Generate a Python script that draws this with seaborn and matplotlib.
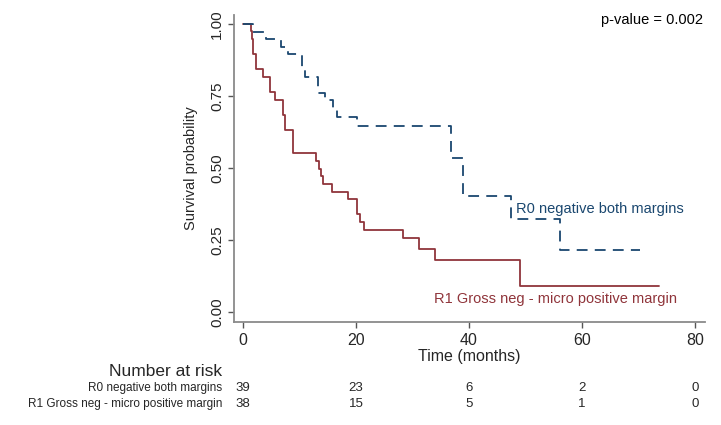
import numpy as np
import pandas as pd
import matplotlib
matplotlib.use("Agg")
import matplotlib.pyplot as plt
import matplotlib.transforms as mtransforms
import seaborn as sns

# --- data (Kaplan-Meier steps) ---
groups = ["R0 negative both margins", "R1 Gross neg - micro positive margin"]

r0_time = [0, 1.7, 4.1, 6.8, 8.0, 10.4, 10.9, 13.3, 14.5, 15.9, 16.6, 20.2,
           36.9, 38.9, 47.4, 56.1, 70.3]
r0_surv = [1.0, 0.972, 0.946, 0.920, 0.896, 0.846, 0.815, 0.760, 0.737, 0.708,
           0.677, 0.647, 0.536, 0.402, 0.321, 0.214, 0.214]

r1_time = [0, 1.4, 1.6, 1.8, 2.3, 3.5, 4.7, 5.7, 7.1, 7.4, 8.9, 12.9, 13.5,
           13.8, 14.2, 15.8, 18.6, 20.1, 20.7, 21.4, 28.4, 31.2, 34.0, 49.0, 73.7]
r1_surv = [1.0, 0.974, 0.947, 0.895, 0.842, 0.816, 0.763, 0.737, 0.684, 0.632,
           0.553, 0.524, 0.497, 0.472, 0.444, 0.418, 0.391, 0.339, 0.311, 0.285,
           0.256, 0.219, 0.181, 0.090, 0.090]

risk_times = [0, 20, 40, 60, 80]
r0_risk = [39, 23, 6, 2, 0]
r1_risk = [38, 15, 5, 1, 0]

p_text = "p-value = 0.002"

# --- style ---
sns.set_theme(style="white")
plt.rcParams["font.family"] = ["Liberation Sans", "DejaVu Sans"]

blue = "#1a476f"
red = "#90353b"
grey = "#8a8a8a"

df = pd.concat([
    pd.DataFrame({"time": r0_time, "surv": r0_surv, "group": groups[0]}),
    pd.DataFrame({"time": r1_time, "surv": r1_surv, "group": groups[1]}),
])

fig = plt.figure(figsize=(7.21, 4.25), dpi=100)
ax = fig.add_axes([0.3245, 0.2424, 0.978 - 0.3245, 0.9647 - 0.2424])

sns.lineplot(data=df[df.group == groups[1]], x="time", y="surv", ax=ax,
             drawstyle="steps-post", estimator=None, sort=False,
             color=red, linewidth=1.3)
sns.lineplot(data=df[df.group == groups[0]], x="time", y="surv", ax=ax,
             drawstyle="steps-post", estimator=None, sort=False,
             color=blue, linewidth=1.3, linestyle=(0, (6, 4)))

ax.set_xlim(-1.6, 81.8)
ax.set_ylim(-0.035, 1.031)
ax.set_xticks(risk_times)
ax.set_yticks([0, 0.25, 0.5, 0.75, 1.0])
ax.set_yticklabels(["0.00", "0.25", "0.50", "0.75", "1.00"], rotation=90, va="center")

for s in ["top", "right"]:
    ax.spines[s].set_visible(False)
for s in ["left", "bottom"]:
    ax.spines[s].set_color(grey)
    ax.spines[s].set_linewidth(1.3)

ax.tick_params(axis="both", which="major", length=4, width=1, color="#555555",
               labelsize=11.5, pad=4, bottom=True, left=True)
ax.tick_params(axis="y", labelsize=11, pad=3)
ax.set_xlabel("Time (months)", fontsize=11.5, labelpad=1)
ax.set_ylabel("Survival probability", fontsize=10.5, labelpad=9)

ax.text(48.3, 0.357, groups[0], color=blue, fontsize=10.5, ha="left", va="center")
ax.text(55.4, 0.045, groups[1], color=red, fontsize=10.5, ha="center", va="center")
ax.text(81.4, 1.014, p_text, color="black", fontsize=10.5, ha="right", va="center")

# number at risk table
trans = mtransforms.blended_transform_factory(ax.transData, fig.transFigure)
fig.text(222 / 721, 1 - 372 / 425, "Number at risk", fontsize=12.5,
         ha="right", va="center")
row_y = [1 - 388 / 425, 1 - 404 / 425]
for lab, counts, yy in zip(groups, [r0_risk, r1_risk], row_y):
    fig.text(222 / 721, yy, lab, fontsize=8.5, ha="right", va="center")
    for t, n in zip(risk_times, counts):
        ax.text(t, yy, str(n), transform=trans, fontsize=9.5, ha="center",
                va="center", clip_on=False)

fig.savefig("out.png", dpi=100)
